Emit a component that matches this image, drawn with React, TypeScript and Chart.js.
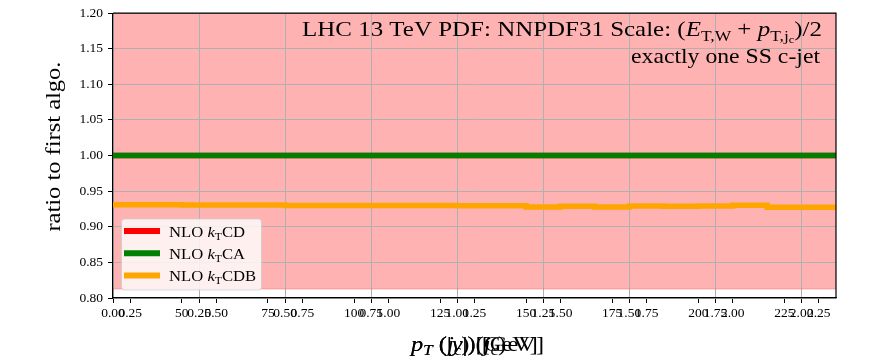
import React, { useEffect, useRef } from 'react';
import { Chart, registerables } from 'chart.js';

Chart.register(...registerables);

// ---- data ----
const binEdges = [30, 40, 50, 60, 70, 80, 90, 100, 110, 120, 130, 140, 150, 160, 170, 180, 190, 200, 210, 220, 230, 240];
const ratioKtCD = [1, 1, 1, 1, 1, 1, 1, 1, 1, 1, 1, 1, 1, 1, 1, 1, 1, 1, 1, 1, 1];
const ratioKtCA = [1, 1, 1, 1, 1, 1, 1, 1, 1, 1, 1, 1, 1, 1, 1, 1, 1, 1, 1, 1, 1];
const ratioKtCDB = [0.9308, 0.9308, 0.9307, 0.9306, 0.9305, 0.93, 0.9299, 0.9298, 0.9297, 0.9297, 0.9296, 0.9296,
  0.9278, 0.9289, 0.9278, 0.9292, 0.9288, 0.929, 0.9301, 0.9274, 0.9274];
const bandLower = [0.8125, 0.8125, 0.8125, 0.8125, 0.8125, 0.8125, 0.8125, 0.8125, 0.8125, 0.8125, 0.8125, 0.8125,
  0.8125, 0.8125, 0.8125, 0.8125, 0.8125, 0.8125, 0.8125, 0.8125, 0.8125];
const yTicks = [0.8, 0.85, 0.9, 0.95, 1.0, 1.05, 1.1, 1.15, 1.2];
const xTicksA = [0, 0.25, 0.5, 0.75, 1.0, 1.25, 1.5, 1.75, 2.0];
const xTicksB = [0.25, 0.5, 0.75, 1.0, 1.25, 1.5, 1.75, 2.0, 2.25];
const xTicksC = [50, 75, 100, 125, 150, 175, 200, 225];
const seriesNames = ['CD', 'CA', 'CDB'];
const seriesColors = ['#ff0000', '#008000', '#ffa500'];
const annotationLine2 = 'exactly one SS c-jet';
const yTitle = 'ratio to first algo.';

const SERIF = '"Liberation Serif", "Times New Roman", serif';

type Seg = { t: string; it?: boolean; lvl?: number };

function segSize(s: Seg, size: number) {
  const l = s.lvl || 0;
  return l === 0 ? size : l === 1 ? size * 0.7 : size * 0.5;
}
function segDy(s: Seg, size: number) {
  const l = s.lvl || 0;
  return l === 0 ? 0 : l === 1 ? size * 0.2 : size * 0.32;
}
function setFont(ctx: CanvasRenderingContext2D, s: Seg, size: number) {
  ctx.font = `${s.it ? 'italic ' : ''}${segSize(s, size)}px ${SERIF}`;
}
function measureRich(ctx: CanvasRenderingContext2D, segs: Seg[], size: number) {
  let w = 0;
  for (const s of segs) {
    setFont(ctx, s, size);
    w += ctx.measureText(s.t).width;
  }
  return w;
}
function drawRich(ctx: CanvasRenderingContext2D, segs: Seg[], x: number, y: number, size: number,
  align: 'left' | 'right' | 'center', width?: number, sxDefault = 1.11) {
  const raw = measureRich(ctx, segs, size);
  const sx = width ? width / raw : sxDefault;
  const w = raw * sx;
  const x0 = align === 'left' ? x : align === 'right' ? x - w : x - w / 2;
  ctx.save();
  ctx.translate(x0, y);
  ctx.scale(sx, 1);
  ctx.textAlign = 'left';
  ctx.textBaseline = 'alphabetic';
  ctx.fillStyle = '#000';
  let cx = 0;
  for (const s of segs) {
    setFont(ctx, s, size);
    ctx.fillText(s.t, cx, segDy(s, size));
    cx += ctx.measureText(s.t).width;
  }
  ctx.restore();
}

function stepPoints(values: number[]) {
  const pts = values.map((v, i) => ({ x: binEdges[i], y: v }));
  pts.push({ x: binEdges[binEdges.length - 1], y: values[values.length - 1] });
  return pts;
}

const decorPlugin = {
  id: 'decor',
  afterDatasetsDraw(chart: any) {
    const { ctx, chartArea: ca } = chart;
    ctx.save();
    ctx.strokeStyle = '#000';
    ctx.lineWidth = 1.2;
    ctx.beginPath();
    ctx.moveTo(ca.left, ca.top);
    ctx.lineTo(ca.right, ca.top);
    ctx.lineTo(ca.right, ca.bottom);
    ctx.stroke();
    ctx.restore();
  },
  afterDraw(chart: any) {
    const { ctx, chartArea: ca } = chart;
    // annotation
    const line1: Seg[] = [
      { t: 'LHC 13 TeV PDF: NNPDF31 Scale: (' }, { t: 'E', it: true }, { t: 'T,W', lvl: 1 },
      { t: ' + ' }, { t: 'p', it: true }, { t: 'T,j', lvl: 1 }, { t: 'c', lvl: 2 }, { t: ')/2' },
    ];
    drawRich(ctx, line1, ca.right - 14, ca.top + 23, 22, 'right', 520);
    drawRich(ctx, [{ t: annotationLine2 }], ca.right - 16, ca.top + 50, 22, 'right', 189);

    // legend
    const bx = ca.left + 8.5, by = ca.bottom - 79, bw = 140, bh = 71;
    ctx.save();
    ctx.beginPath();
    const r = 3;
    ctx.moveTo(bx + r, by);
    ctx.lineTo(bx + bw - r, by);
    ctx.quadraticCurveTo(bx + bw, by, bx + bw, by + r);
    ctx.lineTo(bx + bw, by + bh - r);
    ctx.quadraticCurveTo(bx + bw, by + bh, bx + bw - r, by + bh);
    ctx.lineTo(bx + r, by + bh);
    ctx.quadraticCurveTo(bx, by + bh, bx, by + bh - r);
    ctx.lineTo(bx, by + r);
    ctx.quadraticCurveTo(bx, by, bx + r, by);
    ctx.closePath();
    ctx.fillStyle = 'rgba(255,255,255,0.8)';
    ctx.fill();
    ctx.strokeStyle = 'rgba(204,204,204,0.8)';
    ctx.lineWidth = 1;
    ctx.stroke();
    ctx.restore();
    seriesNames.forEach((name, i) => {
      const cy = by + 12 + i * 22.3;
      ctx.save();
      ctx.strokeStyle = seriesColors[i];
      ctx.lineWidth = 6;
      ctx.lineCap = 'butt';
      ctx.beginPath();
      ctx.moveTo(bx + 2.5, cy);
      ctx.lineTo(bx + 38.5, cy);
      ctx.stroke();
      ctx.restore();
      drawRich(ctx, [{ t: 'NLO ' }, { t: 'k', it: true }, { t: 'T', lvl: 1 }, { t: name }], bx + 47.5, cy + 5.7, 15, 'left');
    });

    // y title
    ctx.save();
    ctx.translate(60, (ca.top + ca.bottom) / 2 - 9);
    ctx.rotate(-Math.PI / 2);
    drawRich(ctx, [{ t: yTitle }], 0, 0, 22, 'center', 170);
    ctx.restore();

    // overlapping x labels
    const xc = (ca.left + ca.right) / 2;
    const xy = 351;
    drawRich(ctx, [{ t: 'p', it: true }, { t: 'T', it: true, lvl: 1 }, { t: ' (' }, { t: 'j', it: true }, { t: 'c', lvl: 1 }, { t: ') [GeV]' }], xc, xy, 22, 'center');
    drawRich(ctx, [{ t: 'p', it: true }, { t: 'T', it: true, lvl: 1 }, { t: ' (|' }, { t: 'y', it: true }, { t: '|) [GeV]' }], xc + 3, xy, 22, 'center');
    drawRich(ctx, [{ t: '(|' }, { t: 'y', it: true }, { t: '|)(' }, { t: 'j', it: true }, { t: 'c', lvl: 1 }, { t: ')' }], xc - 2, xy, 22, 'center');
  },
};

const tickFont = { family: SERIF, size: 13.5 };

export default function App() {
  const ref = useRef<HTMLCanvasElement>(null);
  useEffect(() => {
    const makeLine = (label: string, values: number[], color: string, order: number) => ({
      label,
      data: stepPoints(values),
      borderColor: color,
      backgroundColor: color,
      borderWidth: 5.5,
      pointRadius: 0,
      stepped: 'before' as const,
      fill: false,
      order,
      xAxisID: 'x',
      yAxisID: 'y',
    });
    const overlayTickGrid = { drawOnChartArea: false, drawTicks: true, tickLength: 5, tickColor: '#000', tickWidth: 1 };
    const chart = new Chart(ref.current as HTMLCanvasElement, {
      type: 'line',
      data: {
        datasets: [
          {
            label: 'band',
            data: stepPoints(bandLower),
            borderColor: 'rgba(255,0,0,0.25)',
            backgroundColor: 'rgba(255,0,0,0.3)',
            borderWidth: 1,
            pointRadius: 0,
            stepped: 'before',
            fill: 'end',
            order: 3,
            xAxisID: 'x',
            yAxisID: 'y',
          } as any,
          makeLine('NLO kTCD', ratioKtCD, seriesColors[0], 2),
          makeLine('NLO kTCA', ratioKtCA, seriesColors[1], 1),
          makeLine('NLO kTCDB', ratioKtCDB, seriesColors[2], 0),
        ],
      },
      options: {
        responsive: false,
        animation: false,
        devicePixelRatio: 1,
        parsing: false,
        layout: { padding: { top: 10, right: 36, left: 0, bottom: 0 } },
        plugins: {
          legend: { display: false },
          tooltip: { enabled: false },
          filler: { propagate: false, drawTime: 'beforeDraw' } as any,
        },
        scales: {
          x: {
            type: 'linear', position: { y: 0.8 }, min: 30, max: 240,
            afterBuildTicks: (s: any) => { s.ticks = xTicksC.map((v) => ({ value: v })); },
            grid: overlayTickGrid,
            border: { display: false },
            ticks: { font: tickFont, color: '#000', padding: 2, maxRotation: 0, autoSkip: false, callback: (v: any) => String(v) },
          },
          xb: {
            type: 'linear', position: { y: 0.8 }, axis: 'x', min: 0.2, max: 2.3,
            afterBuildTicks: (s: any) => { s.ticks = xTicksB.map((v) => ({ value: v })); },
            grid: overlayTickGrid,
            border: { display: false },
            ticks: { font: tickFont, color: '#000', padding: 2, maxRotation: 0, autoSkip: false, callback: (v: any) => Number(v).toFixed(2) },
          },
          xa: {
            type: 'linear', position: 'bottom', axis: 'x', min: 0, max: 2.1,
            afterFit: (s: any) => { s.height = 65; },
            afterBuildTicks: (s: any) => { s.ticks = xTicksA.map((v) => ({ value: v })); },
            grid: { color: '#b0b0b0', lineWidth: 1, drawTicks: true, tickLength: 5, tickColor: '#000', tickWidth: 1 },
            border: { display: true, color: '#000', width: 1.2 },
            ticks: { font: tickFont, color: '#000', padding: 2, maxRotation: 0, autoSkip: false, callback: (v: any) => Number(v).toFixed(2) },
          },
          y: {
            type: 'linear', position: 'left', min: 0.8, max: 1.2,
            afterFit: (s: any) => { s.width = 113; },
            afterBuildTicks: (s: any) => { s.ticks = yTicks.map((v) => ({ value: v })); },
            grid: { color: '#b0b0b0', lineWidth: 1, drawTicks: true, tickLength: 5, tickColor: '#000', tickWidth: 1 },
            border: { display: true, color: '#000', width: 1.2 },
            ticks: { font: tickFont, color: '#000', padding: 5, autoSkip: false, callback: (v: any) => Number(v).toFixed(2) },
          },
        },
      } as any,
      plugins: [decorPlugin],
    });
    return () => chart.destroy();
  }, []);
  return (
    <div style={{ position: 'fixed', left: 0, top: 0, width: 872, height: 363, background: '#fff' }}>
      <canvas ref={ref} width={872} height={363} style={{ display: 'block', width: 872, height: 363 }} />
    </div>
  );
}
